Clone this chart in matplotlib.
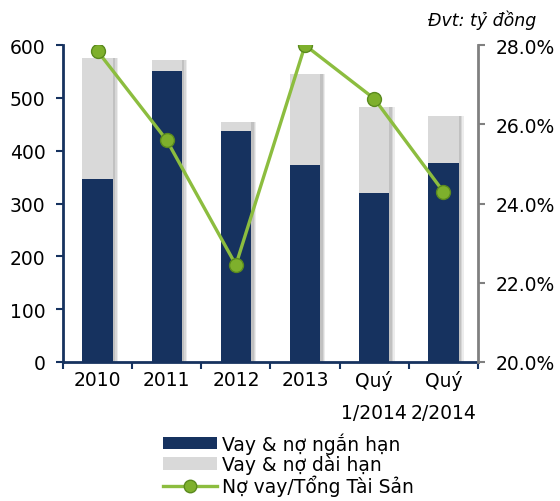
import matplotlib.pyplot as plt
from matplotlib.patches import Patch
from matplotlib.lines import Line2D
import numpy as np

plt.rcParams["font.family"] = ["DejaVu Sans"]

periods = ["2010", "2011", "2012", "2013", "Quý\n1/2014", "Quý\n2/2014"]
short_term = [346, 552, 437, 373, 320, 376]
long_term = [229, 20, 18, 172, 162, 90]
debt_ratio = [27.85, 25.6, 22.45, 28.0, 26.65, 24.3]

navy = "#16325f"
grey = "#d9d9d9"
green = "#8cbd3f"
fs = 13.5

fig = plt.figure(figsize=(5.6, 5.02), dpi=100)
ax = fig.add_axes([0.1125, 0.277, 0.741, 0.631])

x = np.arange(len(periods))
totals = np.add(short_term, long_term)

# soft drop shadow behind each stacked column
for off, a in [(0.075, 0.18), (0.055, 0.25), (0.035, 0.35)]:
    ax.bar(x + off, totals, width=0.44, color="#9a9a9a", alpha=a, zorder=1, lw=0)
ax.bar(x, short_term, width=0.44, color=navy, zorder=2)
ax.bar(x, long_term, width=0.44, bottom=short_term, color=grey, zorder=2)

ax.set_xlim(-0.5, len(periods) - 0.5)
ax.set_ylim(0, 600)
ax.set_yticks(range(0, 601, 100))
ax.set_xticks(x)
ax.set_xticklabels(periods)
for lbl in ax.get_xticklabels():
    lbl.set_linespacing(1.85)
ax.set_xticks(np.arange(-0.5, len(periods)), minor=True)
ax.tick_params(axis="x", which="major", length=0, pad=6, labelsize=fs)
ax.tick_params(axis="x", which="minor", length=5, width=1.5, color=navy)
ax.tick_params(axis="y", length=5, width=1.5, color=navy, labelsize=fs, pad=7.5)
for side in ["top", "right"]:
    ax.spines[side].set_visible(False)
for side in ["left", "bottom"]:
    ax.spines[side].set_color(navy)
    ax.spines[side].set_linewidth(2)

# Debt ratio on the secondary axis
ax2 = ax.twinx()
ax2.plot(x, debt_ratio, color=green, lw=2.4, marker="o", markersize=10,
         markerfacecolor="#7eb02c", markeredgecolor="#5a8a1e", markeredgewidth=1,
         zorder=3)
ax2.set_ylim(20, 28)
ax2.set_yticks([20, 22, 24, 26, 28])
ax2.set_yticklabels([f"{v:.1f}%" for v in [20, 22, 24, 26, 28]])
ax2.tick_params(axis="y", length=5, width=1.5, color="#808080", labelsize=fs, pad=8)
for side in ["top", "left", "bottom"]:
    ax2.spines[side].set_visible(False)
ax2.spines["right"].set_color("#808080")
ax2.spines["right"].set_linewidth(2)

fig.text(0.957, 0.96, "Đvt: tỷ đồng", ha="right", va="center", fontsize=12.5,
         style="italic")

handles = [
    Patch(facecolor=navy),
    Patch(facecolor=grey),
    Line2D([], [], color=green, lw=2.4, marker="o", markersize=9,
           markerfacecolor="#7eb02c", markeredgecolor="#5a8a1e"),
]
labels = ["Vay & nợ ngắn hạn", "Vay & nợ dài hạn", "Nợ vay/Tổng Tài Sản"]
fig.legend(handles, labels, loc="upper left", bbox_to_anchor=(0.291, 0.137),
           frameon=False, fontsize=fs, handlelength=2.9, handleheight=0.65,
           handletextpad=0.25, labelspacing=0.02, borderpad=0, borderaxespad=0)

fig.savefig("out.png", dpi=100)
